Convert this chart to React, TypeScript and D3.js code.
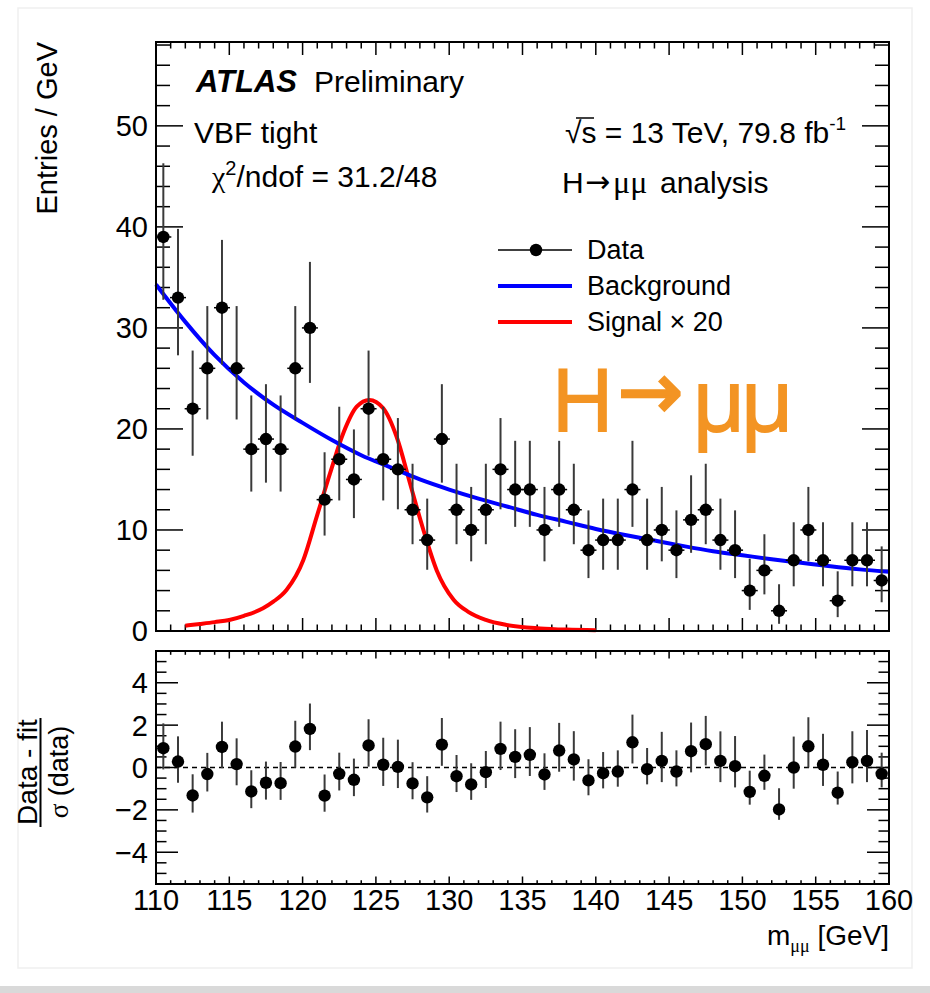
import React from 'react';
import * as d3 from 'd3';

// ---------- data ----------
const massBins = [
  110.5, 111.5, 112.5, 113.5, 114.5, 115.5, 116.5, 117.5, 118.5, 119.5,
  120.5, 121.5, 122.5, 123.5, 124.5, 125.5, 126.5, 127.5, 128.5, 129.5,
  130.5, 131.5, 132.5, 133.5, 134.5, 135.5, 136.5, 137.5, 138.5, 139.5,
  140.5, 141.5, 142.5, 143.5, 144.5, 145.5, 146.5, 147.5, 148.5, 149.5,
  150.5, 151.5, 152.5, 153.5, 154.5, 155.5, 156.5, 157.5, 158.5, 159.5,
];
const dataCounts = [
  39, 33, 22, 26, 32, 26, 18, 19, 18, 26,
  30, 13, 17, 15, 22, 17, 16, 12, 9, 19,
  12, 10, 12, 16, 14, 14, 10, 14, 12, 8,
  9, 9, 14, 9, 10, 8, 11, 12, 9, 8,
  4, 6, 2, 7, 10, 7, 3, 7, 7, 5,
];
const pulls = [
  0.91, 0.28, -1.32, -0.31, 0.97, 0.16, -1.13, -0.72, -0.74, 0.99,
  1.82, -1.33, -0.3, -0.58, 1.04, 0.13, 0.03, -0.75, -1.41, 1.08,
  -0.41, -0.8, -0.22, 0.88, 0.5, 0.6, -0.33, 0.8, 0.38, -0.61,
  -0.27, -0.19, 1.19, -0.08, 0.31, -0.19, 0.77, 1.1, 0.31, 0.06,
  -1.15, -0.39, -1.98, 0.0, 1.0, 0.13, -1.19, 0.25, 0.31, -0.3,
];
const bkgMass = [110, 112, 114, 116, 118, 120, 122, 124, 126, 128, 130, 132, 134, 136, 138, 140, 142, 144, 146, 148, 150, 152, 154, 156, 158, 160];
const bkgValue = [34.3, 30.6, 27.3, 24.6, 22.4, 20.6, 18.9, 17.4, 16.2, 15.0, 14.0, 13.1, 12.3, 11.5, 10.8, 10.1, 9.5, 8.95, 8.4, 7.9, 7.5, 7.1, 6.75, 6.4, 6.1, 5.87];
const sigMass = [112, 113, 114, 115, 116, 117.3, 118, 118.9, 120.05, 120.96, 121.87, 122.78, 123.69, 124.55, 125.5, 126.42, 127.33, 128.24, 129.15, 130.3, 131.3, 132.5, 133.9, 136.2, 138, 140];
const sigValue = [0.53, 0.7, 0.88, 1.09, 1.5, 2.25, 2.9, 4.06, 7.03, 11.3, 15.6, 19.6, 22.2, 22.87, 22.05, 19.2, 14.6, 10.0, 6.0, 3.1, 1.9, 1.1, 0.6, 0.26, 0.14, 0.08];

const xTickLabels = [110, 115, 120, 125, 130, 135, 140, 145, 150, 155, 160];
const yTopTickLabels = [0, 10, 20, 30, 40, 50];
const yBotTickLabels = [-4, -2, 0, 2, 4];

// ---------- layout ----------
const W = 930;
const H = 993;
const L = 156;
const R = 889;
const T1 = 42;
const B1 = 631;
const T2 = 651;
const B2 = 884;
const SANS = 'Liberation Sans, Arial, Helvetica, sans-serif';
const SERIF = 'Liberation Serif, Times New Roman, serif';
const ARROW = 'DejaVu Sans, sans-serif';
const ORANGE_FONT = 'Open Sans, sans-serif';
const ORANGE = '#f39423';

// Poisson (Garwood) 68% intervals, Wilson-Hilferty chi2 approximation
function chi2q(z: number, k: number) {
  const a = 2 / (9 * k);
  return k * Math.pow(1 - a + z * Math.sqrt(a), 3);
}
function poissonErr(n: number) {
  const lo = n === 0 ? 0 : 0.5 * chi2q(-1, 2 * n);
  const hi = 0.5 * chi2q(1, 2 * n + 2);
  return { lo, hi };
}

export default function App() {
  const x = d3.scaleLinear().domain([110, 160]).range([L, R]);
  const yTop = d3.scaleLinear().domain([0, 58.3]).range([B1, T1]);
  const yBot = d3.scaleLinear().domain([-5.5, 5.5]).range([B2, T2]);

  const bkgLine = d3
    .line<number>()
    .x((_, i) => x(bkgMass[i]))
    .y((d) => yTop(d))
    .curve(d3.curveMonotoneX)(bkgValue) as string;
  const sigLine = d3
    .line<number>()
    .x((_, i) => x(sigMass[i]))
    .y((d) => yTop(d))
    .curve(d3.curveMonotoneX)(sigValue) as string;

  const minorX = d3.range(110, 161, 1);
  const minorYTop = d3.range(0, 58.3, 2);
  const minorYBot = d3.range(-5.5, 5.51, 0.5);

  const errColor = '#3a3a3a';

  return (
    <svg
      width={W}
      height={H}
      style={{ position: 'absolute', left: 0, top: 0, background: '#fff' }}
      fontFamily={SANS}
    >
      {/* outer faint frame & bottom band */}
      <rect x={18} y={8} width={894} height={960} fill="none" stroke="#efefef" strokeWidth={1.5} />
      <rect x={0} y={986} width={W} height={7} fill="#d9d9d9" />

      {/* ===== top panel ===== */}
      {minorX.map((v) => {
        const len = v % 5 === 0 ? 13 : 6.5;
        return (
          <g key={'tx' + v} stroke="#000" strokeWidth={1.5}>
            <line x1={x(v)} x2={x(v)} y1={B1} y2={B1 - len} />
            <line x1={x(v)} x2={x(v)} y1={T1} y2={T1 + len} />
          </g>
        );
      })}
      {minorYTop.map((v) => {
        const len = v % 10 === 0 ? 27 : 14;
        return (
          <g key={'ty' + v} stroke="#000" strokeWidth={1.5}>
            <line x1={L} x2={L + len} y1={yTop(v)} y2={yTop(v)} />
            <line x1={R} x2={R - len} y1={yTop(v)} y2={yTop(v)} />
          </g>
        );
      })}
      {yTopTickLabels.map((v) => (
        <text key={'tyl' + v} x={148} y={yTop(v)} dy="0.36em" textAnchor="end" fontSize={29}>
          {v}
        </text>
      ))}

      {/* curves */}
      <path d={sigLine} fill="none" stroke="#ff0000" strokeWidth={4} />
      <path d={bkgLine} fill="none" stroke="#0000ff" strokeWidth={4} />

      {/* data */}
      {massBins.map((m, i) => {
        const n = dataCounts[i];
        const e = poissonErr(n);
        return (
          <g key={'d' + m}>
            <line x1={x(m)} x2={x(m)} y1={yTop(e.lo)} y2={yTop(e.hi)} stroke={errColor} strokeWidth={2} />
            <line x1={x(m) - 8} x2={x(m) + 8} y1={yTop(n)} y2={yTop(n)} stroke="#000" strokeWidth={1.5} />
            <circle cx={x(m)} cy={yTop(n)} r={6.2} fill="#000" />
          </g>
        );
      })}

      <rect x={L} y={T1} width={R - L} height={B1 - T1} fill="none" stroke="#000" strokeWidth={2} />

      {/* texts */}
      <text x={196} y={92} fontSize={31} fontWeight="bold" fontStyle="italic">ATLAS</text>
      <text x={314} y={92} fontSize={30}>Preliminary</text>
      <text x={194} y={143} fontSize={30}>VBF tight</text>
      <text x={212} y={187} fontSize={30}>
        <tspan fontFamily={SERIF}>χ</tspan>
        <tspan fontSize={20} dy={-12}>2</tspan>
        <tspan dy={12}>/ndof = 31.2/48</tspan>
      </text>
      <text x={565} y={143} fontSize={30}>
        <tspan>√s = 13 TeV, 79.8 fb</tspan>
        <tspan fontSize={19} dy={-13}>-1</tspan>
      </text>
      <line x1={576} x2={594} y1={118} y2={118} stroke="#000" strokeWidth={1.5} />
      <text x={562} y={193} fontSize={30}>H</text>
      <text x={585} y={192} fontSize={30} fontFamily={ARROW}>→</text>
      <text x={613} y={193} fontSize={32} fontFamily={SERIF}>μμ</text>
      <text x={660} y={193} fontSize={30}>analysis</text>

      {/* legend */}
      <line x1={498} x2={572} y1={250} y2={250} stroke="#000" strokeWidth={1.5} />
      <circle cx={536} cy={250} r={6.2} fill="#000" />
      <text x={587} y={259} fontSize={27}>Data</text>
      <line x1={498} x2={572} y1={286} y2={286} stroke="#0000ff" strokeWidth={4} />
      <text x={587} y={295} fontSize={27}>Background</text>
      <line x1={498} x2={572} y1={322} y2={322} stroke="#ff0000" strokeWidth={4} />
      <text x={587} y={331} fontSize={27}>Signal × 20</text>

      {/* orange label */}
      <text x={551} y={431} fill={ORANGE} stroke={ORANGE} strokeWidth={1.8} fontFamily={ORANGE_FONT} fontSize={86}>H</text>
      <text x={618} y={418} fill={ORANGE} stroke={ORANGE} strokeWidth={2.5} fontFamily={ARROW} fontSize={78}>→</text>
      <text x={692} y={431} fill={ORANGE} stroke={ORANGE} strokeWidth={1.8} fontFamily={ORANGE_FONT} fontSize={86} letterSpacing={-5}>μμ</text>

      {/* y title */}
      <text transform="translate(57,42) rotate(-90)" textAnchor="end" fontSize={29}>
        Entries / GeV
      </text>

      {/* ===== bottom panel ===== */}
      {minorX.map((v) => {
        const len = v % 5 === 0 ? 7.5 : 3.8;
        return (
          <g key={'bx' + v} stroke="#000" strokeWidth={1.5}>
            <line x1={x(v)} x2={x(v)} y1={B2} y2={B2 - len} />
            <line x1={x(v)} x2={x(v)} y1={T2} y2={T2 + len} />
          </g>
        );
      })}
      {minorYBot.map((v) => {
        const major = Math.abs(Math.round(v) - v) < 1e-6 && Math.round(v) % 2 === 0;
        const len = major ? 22 : 10.5;
        return (
          <g key={'by' + v} stroke="#000" strokeWidth={1.5}>
            <line x1={L} x2={L + len} y1={yBot(v)} y2={yBot(v)} />
            <line x1={R} x2={R - len} y1={yBot(v)} y2={yBot(v)} />
          </g>
        );
      })}
      {yBotTickLabels.map((v) => (
        <text key={'byl' + v} x={148} y={yBot(v)} dy="0.36em" textAnchor="end" fontSize={29}>
          {v < 0 ? '−' + Math.abs(v) : v}
        </text>
      ))}
      <line x1={L} x2={R} y1={yBot(0)} y2={yBot(0)} stroke="#000" strokeWidth={1.5} strokeDasharray="5,4" />

      {massBins.map((m, i) => {
        const n = dataCounts[i];
        const e = poissonErr(n);
        const p = pulls[i];
        const up = p >= 0 ? (e.hi - n) / (n - e.lo) : 1;
        const dn = p >= 0 ? 1 : (n - e.lo) / (e.hi - n);
        return (
          <g key={'p' + m}>
            <line x1={x(m)} x2={x(m)} y1={yBot(p - dn)} y2={yBot(p + up)} stroke={errColor} strokeWidth={2} />
            <circle cx={x(m)} cy={yBot(p)} r={6.2} fill="#000" />
          </g>
        );
      })}

      <rect x={L} y={T2} width={R - L} height={B2 - T2} fill="none" stroke="#000" strokeWidth={2} />

      {xTickLabels.map((v) => (
        <text key={'xl' + v} x={x(v)} y={910} textAnchor="middle" fontSize={29}>
          {v}
        </text>
      ))}

      <text x={889} y={945} textAnchor="end" fontSize={28}>
        <tspan>m</tspan>
        <tspan fontFamily={SERIF} fontSize={18} dy={7}>μμ</tspan>
        <tspan dy={-7}> [GeV]</tspan>
      </text>

      {/* bottom y title */}
      <text transform="translate(37,772) rotate(-90)" textAnchor="middle" fontSize={28}>
        Data - fit
      </text>
      <line x1={40.5} x2={40.5} y1={718} y2={827} stroke="#000" strokeWidth={2} />
      <text transform="translate(68,772) rotate(-90)" textAnchor="middle" fontSize={27}>
        <tspan fontFamily={SERIF}>σ</tspan>
        <tspan> (data)</tspan>
      </text>
    </svg>
  );
}
